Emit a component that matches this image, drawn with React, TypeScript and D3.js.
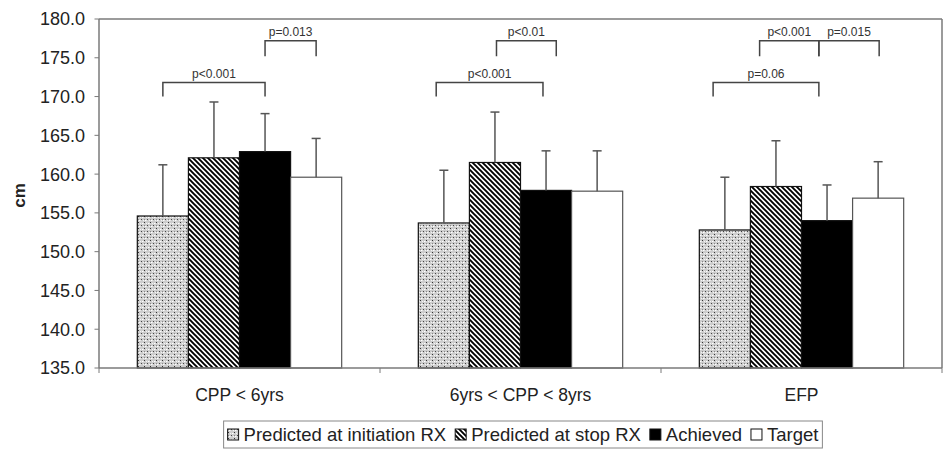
import React from "react";
import * as d3 from "d3";

const categories = ["CPP < 6yrs", "6yrs < CPP < 8yrs", "EFP"];
const seriesNames = ["Predicted at initiation RX", "Predicted at stop RX", "Achieved", "Target"];
const predInit = [154.6, 153.7, 152.8];
const predInitErr = [6.6, 6.8, 6.8];
const predStop = [162.1, 161.5, 158.4];
const predStopErr = [7.2, 6.5, 5.9];
const achieved = [162.9, 157.9, 154.0];
const achievedErr = [4.9, 5.1, 4.6];
const target = [159.6, 157.8, 156.9];
const targetErr = [5.0, 5.2, 4.7];
const yTicks = [135, 140, 145, 150, 155, 160, 165, 170, 175, 180];

// brackets: category, from bar position, to bar position (bar index units), level value, end value, label
const bracketCat = [0, 0, 1, 1, 2, 2, 2];
const bracketFrom = [0, 2, -0.15, 1.03, -0.23, 0.68, 1.84];
const bracketTo = [2, 3, 1.94, 2.2, 1.84, 1.84, 3.02];
const bracketLevel = [171.8, 177.2, 171.8, 177.2, 171.8, 177.2, 177.2];
const bracketEnd = [170.0, 175.2, 170.0, 175.2, 170.0, 175.2, 175.2];
const bracketLabel = ["p<0.001", "p=0.013", "p<0.001", "p<0.01", "p=0.06", "p<0.001", "p=0.015"];

const values = [predInit, predStop, achieved, target];
const errors = [predInitErr, predStopErr, achievedErr, targetErr];
const fills = ["url(#stipple)", "url(#hatch)", "#000", "#fff"];

const W = 952, H = 449;
const M = { left: 99, right: 942, top: 19, bottom: 368 };
const FONT = "Liberation Sans, Arial, sans-serif";

export default function App() {
  const y = d3.scaleLinear().domain([135, 180]).range([M.bottom, M.top]);
  const x0 = d3.scaleBand<string>().domain(categories).range([M.left, M.right]);
  const x1 = d3.scaleBand<string>().domain(seriesNames).range([0, x0.bandwidth()]).paddingInner(0).paddingOuter(0.75);
  const bw = x1.bandwidth();
  const barCenter = (ci: number, pos: number) =>
    (x0(categories[ci]) as number) + (x1(seriesNames[0]) as number) + bw / 2 + pos * bw;

  const axisColor = "#7a7a7a";
  const textColor = "#222";

  // legend layout
  const legendFont = 18.5;
  const ctx = typeof document !== "undefined" ? document.createElement("canvas").getContext("2d") : null;
  if (ctx) ctx.font = `${legendFont}px ${FONT}`;
  const tw = (s: string) => (ctx ? ctx.measureText(s).width : s.length * 8);
  const icon = 11, iconGap = 5, itemGap = 9;
  const widths = seriesNames.map((s) => icon + iconGap + tw(s));
  const totalW = d3.sum(widths) + itemGap * (seriesNames.length - 1);
  const legX = 523 - totalW / 2;
  const legendPos: number[] = [];
  let acc = legX;
  widths.forEach((w) => { legendPos.push(acc); acc += w + itemGap; });

  return (
    <svg width={W} height={H} style={{ display: "block", position: "absolute", left: 0, top: 0 }} fontFamily={FONT}>
      <defs>
        <pattern id="stipple" patternUnits="userSpaceOnUse" width="6" height="6">
          <rect width="6" height="6" fill="#cdcdcd" />
          <rect x="0" y="0" width="1" height="1" fill="#333" />
          <rect x="3" y="3" width="1" height="1" fill="#444" />
          <rect x="0" y="3" width="1" height="1" fill="#888" />
          <rect x="1" y="4" width="1.5" height="1" fill="#fff" />
          <rect x="4" y="1" width="1.5" height="1" fill="#fff" />
          <rect x="2" y="1" width="1" height="1" fill="#f4f4f4" />
          <rect x="5" y="4" width="1" height="1" fill="#f4f4f4" />
        </pattern>
        <pattern id="hatch" patternUnits="userSpaceOnUse" width="5" height="5">
          <rect width="5" height="5" fill="#fff" />
          <path d="M0,0 L5,5 M-1,4 L1,6 M4,-1 L6,1" stroke="#000" strokeWidth="1.9" />
        </pattern>
      </defs>
      <rect width={W} height={H} fill="#fff" />

      {/* frame */}
      <line x1={M.left} x2={M.right} y1={M.top} y2={M.top} stroke={axisColor} strokeWidth={1.5} />
      <line x1={M.right} x2={M.right} y1={M.top} y2={M.bottom} stroke={axisColor} strokeWidth={1.5} />

      {/* bars */}
      {categories.map((c, ci) =>
        seriesNames.map((s, si) => {
          const v = values[si][ci];
          const bx = (x0(c) as number) + (x1(s) as number);
          return (
            <rect key={`b${ci}-${si}`} x={bx} y={y(v)} width={bw} height={y(135) - y(v)}
              fill={fills[si]} stroke={si === 3 ? "#555" : "#111"} strokeWidth={1.2} />
          );
        })
      )}

      {/* error bars */}
      {categories.map((c, ci) =>
        seriesNames.map((s, si) => {
          const v = values[si][ci];
          const e = errors[si][ci];
          const cx = (x0(c) as number) + (x1(s) as number) + bw / 2;
          return (
            <g key={`e${ci}-${si}`} stroke="#555" strokeWidth={1.5}>
              <line x1={cx} x2={cx} y1={y(v)} y2={y(v + e)} />
              <line x1={cx - 4.5} x2={cx + 4.5} y1={y(v + e)} y2={y(v + e)} />
            </g>
          );
        })
      )}

      {/* axes */}
      <line x1={M.left} x2={M.left} y1={M.top} y2={M.bottom} stroke={axisColor} strokeWidth={1.5} />
      <line x1={M.left} x2={M.right} y1={M.bottom} y2={M.bottom} stroke={axisColor} strokeWidth={1.5} />
      {yTicks.map((t) => (
        <g key={`yt${t}`}>
          <line x1={M.left - 4.5} x2={M.left} y1={y(t)} y2={y(t)} stroke={axisColor} strokeWidth={1} />
          <text x={85} y={y(t)} dy="0.36em" textAnchor="end" fontSize={18} fill={textColor}>{t.toFixed(1)}</text>
        </g>
      ))}
      {[...categories.map((c) => x0(c) as number), M.right].map((xv, i) => (
        <line key={`xt${i}`} x1={xv} x2={xv} y1={M.bottom} y2={M.bottom + 5} stroke={axisColor} strokeWidth={1} />
      ))}
      {categories.map((c) => (
        <text key={`xl${c}`} x={(x0(c) as number) + x0.bandwidth() / 2} y={401} textAnchor="middle" fontSize={17.5} fill={textColor}>{c}</text>
      ))}
      <text transform={`translate(25,${(M.top + M.bottom) / 2 + 2}) rotate(-90)`} textAnchor="middle" fontSize={17} fontWeight="bold" fill={textColor}>cm</text>

      {/* significance brackets */}
      {bracketLabel.map((lab, i) => {
        const xa = barCenter(bracketCat[i], bracketFrom[i]);
        const xb = barCenter(bracketCat[i], bracketTo[i]);
        const yl = y(bracketLevel[i]);
        const ye = y(bracketEnd[i]);
        return (
          <g key={`br${i}`}>
            <path d={`M${xa},${ye} L${xa},${yl} L${xb},${yl} L${xb},${ye}`} fill="none" stroke="#444" strokeWidth={1.5} />
            <text x={(xa + xb) / 2} y={yl - 5} textAnchor="middle" fontSize={12} fill="#333">{lab}</text>
          </g>
        );
      })}

      {/* legend */}
      <rect x={legX - 4} y={421} width={totalW + 8} height={27} fill="#fff" stroke="#888" strokeWidth={1} />
      {seriesNames.map((s, si) => (
        <g key={`lg${si}`}>
          <rect x={legendPos[si]} y={429} width={icon} height={icon} fill={fills[si]} stroke="#111" strokeWidth={1} />
          <text x={legendPos[si] + icon + iconGap} y={441} fontSize={legendFont} fill={textColor}>{s}</text>
        </g>
      ))}
    </svg>
  );
}
